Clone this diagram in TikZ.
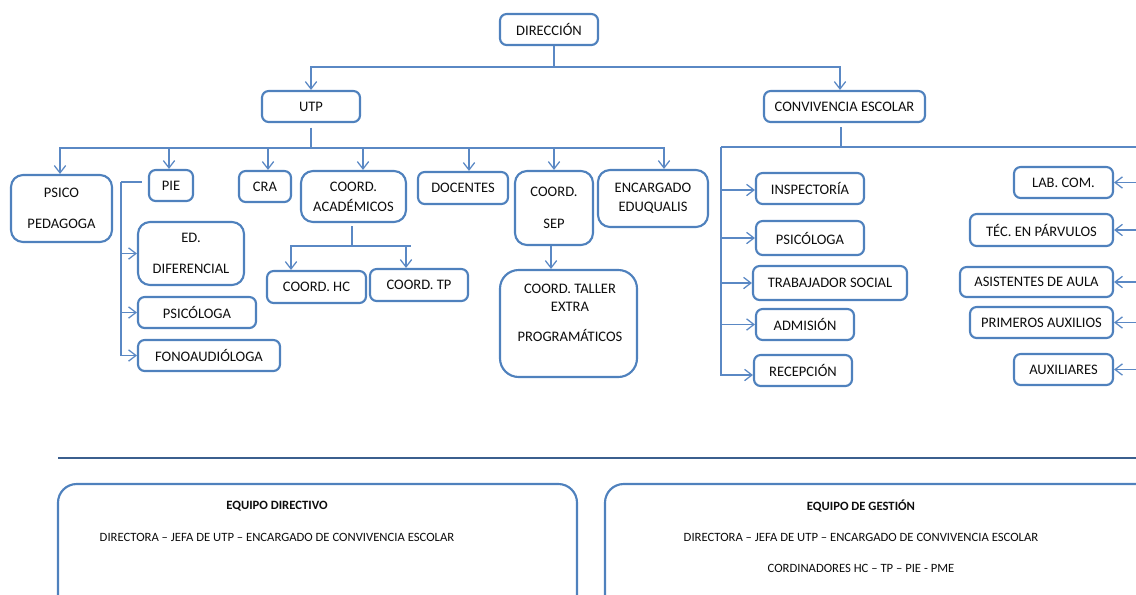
\documentclass[tikz,border=0pt]{standalone}
\usepackage{fontspec}
\setmainfont{Carlito}
\usetikzlibrary{arrows.meta,fit}
\definecolor{bxblue}{HTML}{4F81BD}
\definecolor{lnblue}{HTML}{5A88C4}
\definecolor{sepblue}{HTML}{3B5F8E}
\definecolor{txtc}{HTML}{0D0D0D}
\tikzset{
  box/.style={draw=bxblue, line width=1.6pt, rounded corners=5pt, inner sep=0pt},
  roundbox/.style={box, rounded corners=9pt},
  bigbox/.style={box, rounded corners=14pt},
  boxtxt/.style={text=txtc, inner sep=0pt, align=center, font=\fontsize{10.9}{13}\selectfont},
  conn/.style={draw=lnblue, line width=0.95pt},
  arr/.style={conn, -{Straight Barb[length=5.5pt,width=8.5pt]}},
  lbl/.style={text=txtc, inner sep=0pt, align=center, font=\fontsize{9.5}{11.4}\selectfont},
  lblb/.style={lbl, font=\fontsize{9.5}{11.4}\selectfont\bfseries},
  sepline/.style={draw=sepblue, line width=0.9pt}
}
\newcommand\orgbox[5]{%
  \node[#4, fit={(#2) (#3)}] (#1) {};
  \node[boxtxt] (#1-t) at (#1.center) {#5};}
\begin{document}
\begin{tikzpicture}[x=0.75pt, y=-0.75pt]
\useasboundingbox (0,0) rectangle (1136,594);
\clip (0,0) rectangle (1136,594);

% top levels
\orgbox{dir}{500,14}{598,45}{box}{DIRECCIÓN}
\orgbox{utp}{262,91}{360,122}{box}{UTP}
\orgbox{conv}{764,91}{925,122}{box}{CONVIVENCIA ESCOLAR}

% UTP children
\orgbox{psico}{11,175}{112,242}{roundbox}{PSICO\\[10.6pt]PEDAGOGA}
\orgbox{pie}{149,170}{193,201}{box}{PIE}
\orgbox{cra}{239,171}{291,202}{box}{CRA}
\orgbox{acad}{301,171}{406,222}{roundbox}{COORD.\\[2pt]ACADÉMICOS}
\orgbox{doc}{418,172}{508,204}{box}{DOCENTES}
\orgbox{sep}{515,171}{593,245}{roundbox}{COORD.\\[10.6pt]SEP}
\orgbox{enc}{598,170}{708,227}{roundbox}{ENCARGADO\\[1.2pt]EDUQUALIS}

% PIE children
\orgbox{ed}{138,222}{244,285}{roundbox}{ED.\\[9.9pt]DIFERENCIAL}
\orgbox{psi}{138,297}{256,328}{box}{PSICÓLOGA}
\orgbox{fono}{138,340}{280,371}{box}{FONOAUDIÓLOGA}

% COORD ACAD children
\orgbox{hc}{267,271}{366,303}{box}{COORD. HC}
\orgbox{tp}{370,269}{468,301}{box}{COORD. TP}

% SEP child
\node[bigbox, fit={(500,270) (637,377)}] (taller) {};
\node[boxtxt] (taller-t) at (570,313) {COORD. TALLER\\[0.5pt]EXTRA\\[9.6pt]PROGRAMÁTICOS};

% CONVIVENCIA children (left)
\orgbox{insp}{756,173}{864,204}{box}{INSPECTORÍA}
\orgbox{psi2}{756,221}{864,255}{box}{PSICÓLOGA}
\orgbox{trab}{753,266}{907,300}{box}{TRABAJADOR SOCIAL}
\orgbox{adm}{756,309}{854,340}{box}{ADMISIÓN}
\orgbox{rec}{754,355}{852,386}{box}{RECEPCIÓN}

% CONVIVENCIA children (right)
\orgbox{lab}{1014,167}{1113,198}{box}{LAB. COM.}
\orgbox{tec}{970,214}{1113,246}{box}{TÉC. EN PÁRVULOS}
\orgbox{asis}{960,267}{1113,297}{box}{ASISTENTES DE AULA}
\orgbox{prim}{970,307}{1113,338}{box}{PRIMEROS AUXILIOS}
\orgbox{aux}{1014,354}{1113,385}{box}{AUXILIARES}

% connectors: DIRECCIÓN
\coordinate (dj) at (554,67);
\draw[conn] (dir.south -| dj) -- (dj);
\draw[arr] (dj) -| (utp.north);
\draw[arr] (dj) -| (conv.north -| 840,0);

% connectors: UTP
\coordinate (uj) at (311,148);
\draw[conn, shorten <=3.5pt] (utp.south) -- (uj);
\draw[arr] (uj) -| (psico.north -| 60,0);
\draw[arr] (uj) -| (pie.north -| 169,0);
\draw[arr] (uj) -| (cra.north -| 268,0);
\draw[arr] (uj) -| (acad.north -| 363,0);
\draw[arr] (uj) -| (doc.north -| 469,0);
\draw[arr] (uj) -| (sep.north);
\draw[arr] (uj) -| (enc.north -| 664,0);

% connectors: PIE
\coordinate (pj) at (121,182);
\draw[conn, shorten <=4.5pt] (pie.west |- pj) -- (pj);
\draw[arr] (pj) |- (ed.west);
\draw[arr] (pj) |- (psi.west);
\draw[arr] (pj) |- (fono.west);

% connectors: COORD ACAD
\coordinate (aj) at (352,246);
\coordinate (ajr) at (411,246);
\draw[conn, shorten <=2.5pt] (acad.south -| aj) -- (aj);
\draw[conn] (aj) -- (ajr);
\draw[arr] (aj) -| (hc.north -| 291,0);
\draw[arr] (aj) -| (tp.north -| 406,0);

% connector: SEP
\draw[arr] (sep.south -| 551,0) -- (taller.north -| 551,0);

% connectors: CONVIVENCIA
\coordinate (cj) at (841,147);
\coordinate (cl) at (721,147);
\coordinate (cr) at (1150,147);
\draw[conn, shorten <=3pt] (conv.south -| cj) -- (cj);
\draw[conn] (cl) -- (cr);
\draw[arr] (cl) |- (insp.west |- 0,190);
\draw[arr] (cl) |- (psi2.west);
\draw[arr] (cl) |- (trab.west);
\draw[arr] (cl) |- (adm.west);
\draw[arr] (cl) |- (rec.west |- 0,375);
\draw[arr] (cr) |- (lab.east);
\draw[arr] (cr) |- (tec.east);
\draw[arr] (cr) |- (asis.east);
\draw[arr] (cr) |- (prim.east);
\draw[arr] (cr) |- (aux.east);

% separator
\coordinate (s1) at (58,458);
\coordinate (s2) at (1136,458);
\draw[sepline] (s1) -- (s2);

% bottom boxes
\node[bigbox, fit={(58,484) (577,640)}] (eqd) {};
\node[lblb] (eqdt) at (277,506) {EQUIPO DIRECTIVO};
\node[lbl] (eqdl) at (277,537) {DIRECTORA – JEFA DE UTP – ENCARGADO DE CONVIVENCIA ESCOLAR};

\node[bigbox, fit={(605,484) (1170,640)}] (eqg) {};
\node[lblb] (eqgt) at (861,506) {EQUIPO DE GESTIÓN};
\node[lbl] (eqgl) at (861,537) {DIRECTORA – JEFA DE UTP – ENCARGADO DE CONVIVENCIA ESCOLAR};
\node[lbl] (eqgm) at (861,568) {CORDINADORES HC – TP – PIE - PME};
\end{tikzpicture}
\end{document}
